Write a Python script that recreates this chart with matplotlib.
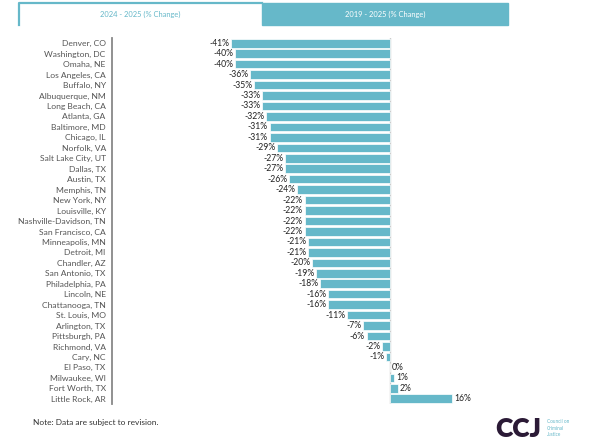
import matplotlib
matplotlib.use("Agg")
import matplotlib.pyplot as plt
from matplotlib.patches import Rectangle
from matplotlib.lines import Line2D

plt.rcParams['font.family'] = ['Lato', 'DejaVu Sans']

cities = ["Denver, CO", "Washington, DC", "Omaha, NE", "Los Angeles, CA", "Buffalo, NY",
          "Albuquerque, NM", "Long Beach, CA", "Atlanta, GA", "Baltimore, MD", "Chicago, IL",
          "Norfolk, VA", "Salt Lake City, UT", "Dallas, TX", "Austin, TX", "Memphis, TN",
          "New York, NY", "Louisville, KY", "Nashville-Davidson, TN", "San Francisco, CA",
          "Minneapolis, MN", "Detroit, MI", "Chandler, AZ", "San Antonio, TX", "Philadelphia, PA",
          "Lincoln, NE", "Chattanooga, TN", "St. Louis, MO", "Arlington, TX", "Pittsburgh, PA",
          "Richmond, VA", "Cary, NC", "El Paso, TX", "Milwaukee, WI", "Fort Worth, TX",
          "Little Rock, AR"]
changes = [-41, -40, -40, -36, -35, -33, -33, -32, -31, -31, -29, -27, -27, -26, -24,
           -22, -22, -22, -22, -21, -21, -20, -19, -18, -16, -16, -11, -7, -6, -2, -1,
           0, 1, 2, 16]
tabs = ["2024 - 2025 (% Change)", "2019 - 2025 (% Change)"]

teal = "#66b8c9"
W, H = 600, 440

fig = plt.figure(figsize=(6, 4.4), dpi=100)
fig.patch.set_facecolor("white")

def px(x, y):
    return x / W, 1 - y / H

# tabs
x1, y0 = px(262, 25)
fig.patches.append(Rectangle((x1, y0), (508 - 262) / W, 22 / H, transform=fig.transFigure,
                             facecolor=teal, edgecolor=teal, linewidth=1.0))
xs = [px(19, 25)[0], px(19, 3)[0], px(262, 3)[0]]
ys = [px(19, 25)[1], px(19, 3)[1], px(262, 3)[1]]
fig.lines.append(Line2D(xs, ys, transform=fig.transFigure, color=teal, linewidth=1.6))
fig.text(*px(140, 14), tabs[0], ha="center", va="center", fontsize=5.4, color=teal)
fig.text(*px(385, 14), tabs[1], ha="center", va="center", fontsize=5.4, color="white")

ax = fig.add_axes([112 / W, 1 - 404 / H, (570 - 112) / W, (404 - 38) / H])
y = list(range(len(cities)))
ax.barh(y, changes, height=0.82, color=teal, edgecolor="white", linewidth=0.5)
ax.set_ylim(len(cities) - 0.5, -0.5)
ax.set_xlim(-71.6, 46.4)
ax.axvline(0, color="#cccccc", linewidth=1, zorder=0)

for yi, v in zip(y, changes):
    if v < 0:
        ax.text(v - 0.4, yi, f"{v}%", ha="right", va="center", fontsize=6.2, color="#222222")
    else:
        ax.text(v + 0.6, yi, f"{v}%", ha="left", va="center", fontsize=6.2, color="#222222")

ax.set_yticks(y)
ax.set_yticklabels(cities, fontsize=6.1, color="#555555")
ax.tick_params(axis="y", length=0, pad=4.5)
ax.set_xticks([])
for s in ["top", "right", "bottom"]:
    ax.spines[s].set_visible(False)
ax.spines["left"].set_color("#888888")
ax.spines["left"].set_linewidth(1.3)

fig.text(*px(33, 422), "Note: Data are subject to revision.", ha="left", va="center",
         fontsize=6.0, color="#333333")

# logo
fig.text(*px(495, 429), "CCJ", ha="left", va="center", fontsize=19, fontweight="heavy",
         color="#2b1a36")
fig.text(*px(547, 428), "Council on\nCriminal\nJustice", ha="left", va="center",
         fontsize=3.4, color=teal, linespacing=1.3)

fig.savefig("out.png", dpi=100)
